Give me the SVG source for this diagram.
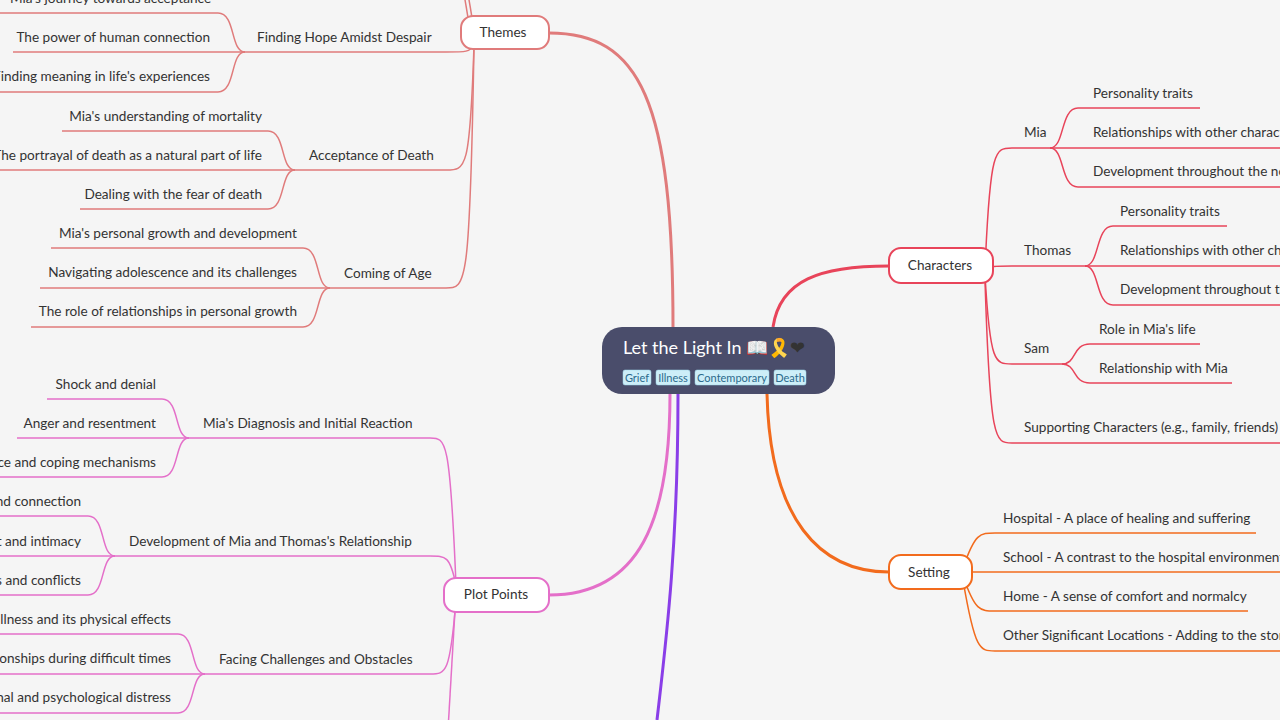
<svg xmlns="http://www.w3.org/2000/svg" width="1280" height="720" viewBox="0 0 1280 720">
<style>
text{font-family:Lato,"Noto Sans",sans-serif;font-size:13.6px;fill:#333}
.e{text-anchor:end}.m{text-anchor:middle}
.c path{fill:none;stroke-width:1.5}
.c path.k{stroke-width:3}
.t path{stroke:#e07b7b}.p path{stroke:#e46fc9}.ch path{stroke:#e8445a}.s path{stroke:#f26b1d}
.tag{fill:#cdeef8;stroke:#9fd6ea;stroke-width:.5}
.tt{font-size:11px;fill:#2b6a8c}
.n{fill:#fff;stroke-width:2}
</style>
<rect width="1280" height="720" fill="#f5f5f5"/>
<g id="connectors" class="c">
<g class="t">
<path class="k" d="M673,327 C673,100 640,33 549,33"/>
<path d="M472,18 C470,5 468,-5 466,-20"/><path d="M468,18 C466,5 464,-5 462,-20"/>
<path d="M474,45 C470,52 466,52 446,52 H245"/>
<path d="M474,45 C470,170 466,170 446,170 H295"/>
<path d="M474,45 C470,288 466,288 446,288 H330"/>
<path d="M245,52 C230,52 236,13 218,13 H0"/><path d="M245,52 H13"/><path d="M245,52 C230,52 236,92 218,92 H0"/>
<path d="M295,170 C280,170 286,131 268,131 H62"/><path d="M295,170 H0"/><path d="M295,170 C280,170 286,209 268,209 H80"/>
<path d="M330,288 C315,288 321,248 303,248 H51"/><path d="M330,288 H40"/><path d="M330,288 C315,288 321,327 303,327 H31"/>
</g>
<g class="p">
<path class="k" d="M670,394 C670,520 640,595 549,595"/>
<path d="M456,585 C450,438 446,438 430,438 H189"/>
<path d="M456,585 C450,556 446,556 430,556 H115"/>
<path d="M456,600 C450,674 446,674 430,674 H205"/>
<path d="M455,610 C452,660 450,700 448,730"/>
<path d="M189,438 C174,438 180,399 162,399 H47"/><path d="M189,438 H17"/><path d="M189,438 C174,438 180,477 162,477 H0"/>
<path d="M115,556 C100,556 106,516 88,516 H0"/><path d="M115,556 H0"/><path d="M115,556 C100,556 106,595 88,595 H0"/>
<path d="M205,674 C190,674 196,634 178,634 H0"/><path d="M205,674 H0"/><path d="M205,674 C190,674 196,713 178,713 H0"/>
</g>
<path class="k" d="M678,394 C678,550 665,650 657,720" stroke="#8a3ee8"/>
<g class="ch">
<path class="k" d="M773,327 C780,280 820,266 889,266"/>
<path d="M985,270 C990,148 995,148 1012,148 H1050"/>
<path d="M985,270 C990,266 995,266 1012,266 H1085"/>
<path d="M985,275 C990,364 995,364 1012,364 H1062"/>
<path d="M985,280 C990,443 995,443 1012,443 H1280"/>
<path d="M1050,148 C1065,148 1060,108 1078,108 H1200"/><path d="M1050,148 H1280"/><path d="M1050,148 C1065,148 1060,187 1078,187 H1280"/>
<path d="M1085,266 C1100,266 1095,226 1113,226 H1227"/><path d="M1085,266 H1280"/><path d="M1085,266 C1100,266 1095,305 1113,305 H1280"/>
<path d="M1062,364 C1077,364 1072,344 1090,344 H1200"/><path d="M1062,364 C1077,364 1072,383 1090,383 H1232"/>
</g>
<g class="s">
<path class="k" d="M767,394 C770,520 820,572 889,572"/>
<path d="M963,568 C975,533 980,533 995,533 H1256"/>
<path d="M963,572 H1280"/>
<path d="M963,576 C975,611 980,611 995,611 H1248"/>
<path d="M963,580 C975,651 980,651 995,651 H1280"/>
</g>
</g>
<g id="center">
<rect x="602" y="327" width="233" height="67" rx="20" fill="#4a4d6b"/>
<text x="623" y="354" style="font-size:18px;fill:#fff">Let the Light In 📖🎗️<tspan style="fill:#333">❤</tspan></text>
<rect class="tag" x="623" y="370" width="28" height="15" rx="2"/><text class="tt m" x="637" y="382">Grief</text>
<rect class="tag" x="656" y="370" width="34" height="15" rx="2"/><text class="tt m" x="673" y="382">Illness</text>
<rect class="tag" x="695" y="370" width="74" height="15" rx="2"/><text class="tt m" x="732" y="382">Contemporary</text>
<rect class="tag" x="774" y="370" width="32" height="15" rx="2"/><text class="tt m" x="790" y="382">Death</text>
</g>
<g id="themes"><rect class="n" x="461" y="16" width="88" height="33" rx="12" stroke="#e07b7b"/><text class="m" x="503" y="37">Themes</text></g>
<g id="t-leaves">
<text x="10" y="3">Mia's journey towards acceptance</text>
<text x="257" y="42">Finding Hope Amidst Despair</text>
<text class="e" x="210" y="42">The power of human connection</text>
<text class="e" x="210" y="81">Finding meaning in life's experiences</text>
<text x="309" y="160">Acceptance of Death</text>
<text class="e" x="262" y="121">Mia's understanding of mortality</text>
<text class="e" x="262" y="160">The portrayal of death as a natural part of life</text>
<text class="e" x="262" y="199">Dealing with the fear of death</text>
<text x="344" y="278">Coming of Age</text>
<text class="e" x="297" y="238">Mia's personal growth and development</text>
<text class="e" x="297" y="277">Navigating adolescence and its challenges</text>
<text class="e" x="297" y="316">The role of relationships in personal growth</text>
</g>
<g id="plot"><rect class="n" x="444" y="578" width="105" height="34" rx="12" stroke="#e46fc9"/><text class="m" x="496" y="599">Plot Points</text></g>
<g id="p-leaves">
<text x="203" y="428">Mia's Diagnosis and Initial Reaction</text>
<text class="e" x="156" y="389">Shock and denial</text>
<text class="e" x="156" y="428">Anger and resentment</text>
<text class="e" x="156" y="467">Acceptance and coping mechanisms</text>
<text x="129" y="546">Development of Mia and Thomas's Relationship</text>
<text class="e" x="81" y="506">Building trust and connection</text>
<text class="e" x="81" y="546">Emotional support and intimacy</text>
<text class="e" x="81" y="585">Misunderstandings and conflicts</text>
<text x="219" y="664">Facing Challenges and Obstacles</text>
<text class="e" x="171" y="624">Coping with illness and its physical effects</text>
<text class="e" x="171" y="663">Maintaining relationships during difficult times</text>
<text class="e" x="171" y="702">Emotional and psychological distress</text>
</g>
<g id="characters"><rect class="n" x="889" y="248" width="104" height="35" rx="12" stroke="#e8445a"/><text class="m" x="940" y="270">Characters</text></g>
<g id="c-leaves">
<text x="1024" y="137">Mia</text>
<text x="1093" y="98">Personality traits</text>
<text x="1093" y="137">Relationships with other characters</text>
<text x="1093" y="176">Development throughout the novel</text>
<text x="1024" y="255">Thomas</text>
<text x="1120" y="216">Personality traits</text>
<text x="1120" y="255">Relationships with other characters</text>
<text x="1120" y="294">Development throughout the novel</text>
<text x="1024" y="353">Sam</text>
<text x="1099" y="334">Role in Mia's life</text>
<text x="1099" y="373">Relationship with Mia</text>
<text x="1024" y="432">Supporting Characters (e.g., family, friends)</text>
</g>
<g id="setting"><rect class="n" x="889" y="555" width="83" height="34" rx="12" stroke="#f26b1d"/><text class="m" x="929" y="577">Setting</text></g>
<g id="s-leaves">
<text x="1003" y="523">Hospital - A place of healing and suffering</text>
<text x="1003" y="562">School - A contrast to the hospital environment</text>
<text x="1003" y="601">Home - A sense of comfort and normalcy</text>
<text x="1003" y="640">Other Significant Locations -  Adding to the story</text>
</g>
</svg>
